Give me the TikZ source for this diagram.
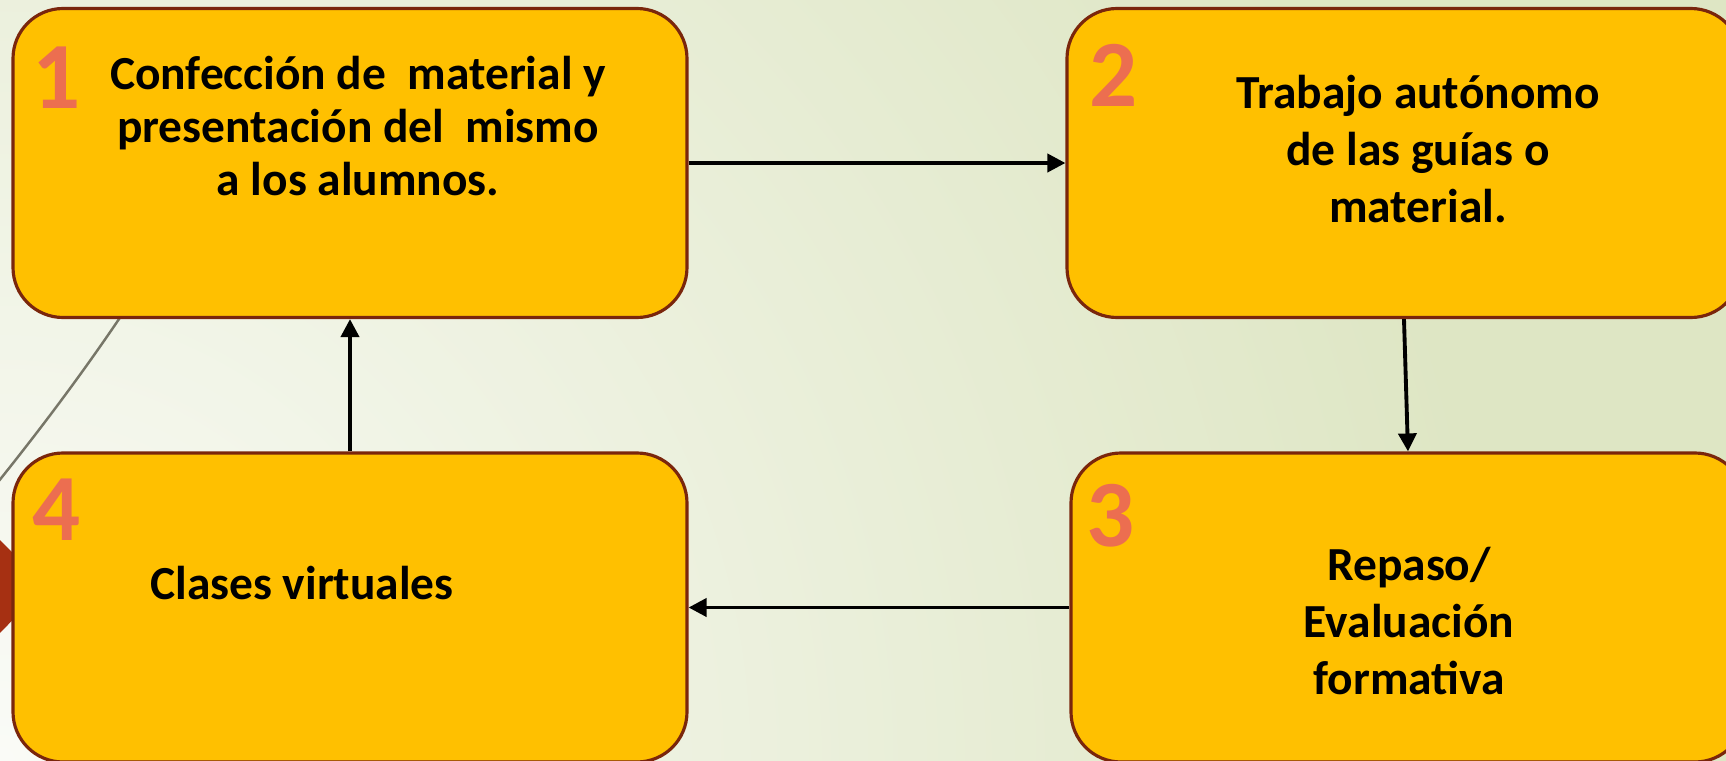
\documentclass[tikz,border=0pt]{standalone}
\usepackage{fontspec}
\setmainfont{Carlito}
\usetikzlibrary{arrows.meta}
\definecolor{bgG}{RGB}{222,230,196}
\definecolor{bgW}{RGB}{250,251,247}
\definecolor{boxfill}{RGB}{255,192,0}
\definecolor{boxline}{RGB}{122,38,12}
\definecolor{numcol}{RGB}{236,110,80}
\definecolor{deco}{RGB}{119,118,104}
\definecolor{redtri}{RGB}{166,48,18}
\tikzset{
  stepbox/.style={draw=boxline, line width=0.9pt, fill=boxfill, rectangle,
    rounded corners=5mm, minimum width=67.4mm, minimum height=30.9mm, inner sep=0pt},
  steptext/.style={font=\bfseries\fontsize{13.5pt}{16.2pt}\selectfont, align=center, text=black, inner sep=0pt},
  stepnum/.style={font=\bfseries\fontsize{27pt}{30pt}\selectfont, text=numcol, inner sep=0pt},
  flow/.style={draw=black, line width=1.1pt, -{Triangle[length=1.8mm,width=1.8mm]}}
}
\begin{document}
\begin{tikzpicture}[x=0.1mm, y=-0.1mm]
\useasboundingbox (0,0) rectangle (1726,761);
\begin{scope}
\clip (0,0) rectangle (1726,761);
\fill[bgG] (0,0) rectangle (1726,761);
\shade[inner color=bgW, outer color=bgG] (0,761) circle (1500);
\draw[deco, line width=0.7pt] (150,272) .. controls (95,358) and (40,430) .. (-10,492);
\fill[redtri] (-5,535) -- (46,586) -- (-5,638) -- cycle;
\end{scope}
\node[stepbox] (b1) at (350,163) {};
\node[stepbox] (b2) at (1404,163) {};
\node[stepbox] (b3) at (1408,607.5) {};
\node[stepbox] (b4) at (350,607.5) {};
\node[stepnum] (n1) at (57,78) {1};
\node[stepnum] (n2) at (1114,75) {2};
\node[stepnum] (n3) at (1111,516) {3};
\node[stepnum] (n4) at (57,510) {4};
\node[steptext, font=\bfseries\fontsize{13.5pt}{15pt}\selectfont] (t1) at (358,126) {Confección de \ material y\\presentación del \ mismo\\a los alumnos.};
\node[steptext] (t2) at (1418,149) {Trabajo autónomo\\de las guías o\\material.};
\node[steptext] (t3) at (1409,621) {Repaso/\\Evaluación\\formativa};
\node[steptext] (t4) at (302,583) {Clases virtuales};
\draw[flow] (b1.east) -- (b2.west);
\draw[flow] (b2.south) -- (b3.north);
\draw[flow] (b3.west) -- (b4.east);
\draw[flow] (b4.north) -- (b1.south);
\end{tikzpicture}
\end{document}
